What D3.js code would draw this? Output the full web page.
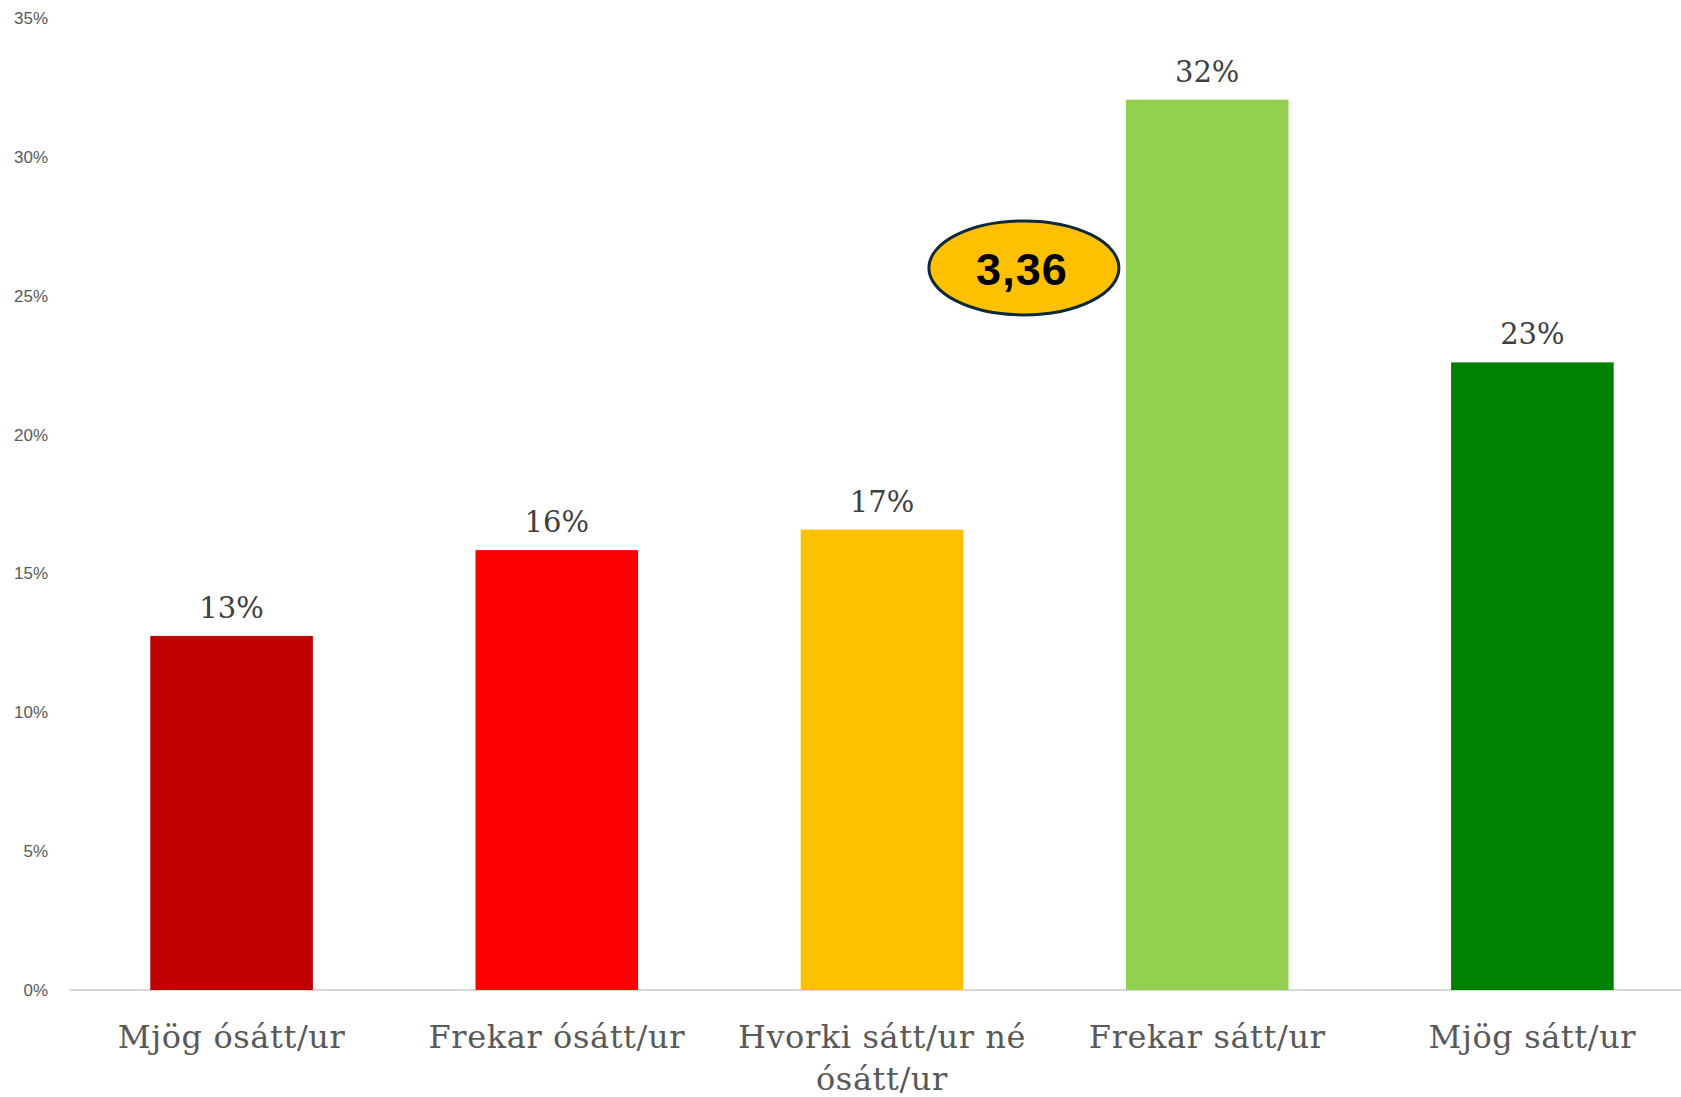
<!DOCTYPE html>
<html>
<head>
<meta charset="utf-8">
<script src="https://cdn.jsdelivr.net/npm/d3@7"></script>
<style>
body { margin: 0; background: #fff; }
</style>
</head>
<body>
<div id="chart"></div>
<script>
var WIDTH = 1681;
var HEIGHT = 1097;

var categories = [['Mjög ósátt/ur'], ['Frekar ósátt/ur'], ['Hvorki sátt/ur né', 'ósátt/ur'], ['Frekar sátt/ur'], ['Mjög sátt/ur']];
var values = [12.75, 15.84, 16.58, 32.06, 22.6];
var colors = ['#C00000', '#FF0000', '#FFC000', '#92D050', '#008000'];
var yTicks = [0, 5, 10, 15, 20, 25, 30, 35];
var averageLabel = '3,36';

var svg = d3.select('#chart').append('svg')
	.attr('width', WIDTH)
	.attr('height', HEIGHT);

var x = d3.scaleBand()
	.domain(d3.range(categories.length))
	.range([69, 1695])
	.paddingInner(0.5)
	.paddingOuter(0.25);

var y = d3.scaleLinear()
	.domain([0, 35])
	.range([990, 18]);

// y axis labels, no line
var yAxis = svg.append('g')
	.attr('transform', 'translate(48,0)')
	.call(d3.axisLeft(y).tickValues(yTicks).tickSize(0).tickPadding(0).tickFormat(function(d) { return d + '%'; }));
yAxis.select('.domain').remove();
yAxis.selectAll('text')
	.attr('fill', '#595959')
	.style('font-family', '"Liberation Sans", Arial, sans-serif')
	.style('font-size', '17px');

// baseline
svg.append('line')
	.attr('x1', 69)
	.attr('x2', WIDTH)
	.attr('y1', y(0))
	.attr('y2', y(0))
	.attr('stroke', '#d9d9d9')
	.attr('stroke-width', 2);

svg.selectAll('rect.bar')
	.data(values)
	.enter().append('rect')
	.attr('class', 'bar')
	.attr('x', function(d, i) { return x(i); })
	.attr('y', function(d) { return y(d); })
	.attr('width', x.bandwidth())
	.attr('height', function(d) { return y(0) - y(d); })
	.attr('fill', function(d, i) { return colors[i]; });

svg.selectAll('text.value')
	.data(values)
	.enter().append('text')
	.attr('class', 'value')
	.attr('x', function(d, i) { return x(i) + x.bandwidth()/2; })
	.attr('y', function(d) { return y(d) - 18; })
	.attr('text-anchor', 'middle')
	.attr('fill', '#404040')
	.style('font-family', '"DejaVu Serif", serif')
	.style('font-size', '29px')
	.text(function(d) { return Math.round(d) + '%'; });

var catLabels = svg.selectAll('text.cat')
	.data(categories)
	.enter().append('text')
	.attr('class', 'cat')
	.attr('text-anchor', 'middle')
	.attr('fill', '#595959')
	.style('font-family', '"DejaVu Serif", serif')
	.style('font-size', '32px')
	.style('letter-spacing', '0.6px');

catLabels.selectAll('tspan')
	.data(function(d, i) { return d.map(function(s) { return {s: s, i: i}; }); })
	.enter().append('tspan')
	.attr('x', function(d) { return x(d.i) + x.bandwidth()/2; })
	.attr('y', function(d, j) { return 1048 + j*42; })
	.text(function(d) { return d.s; });

// average rating bubble
var bubble = svg.append('g')
	.attr('transform', 'translate(' + (x(3) - 102) + ',' + y(26) + ')');

bubble.append('ellipse')
	.attr('rx', 95)
	.attr('ry', 47)
	.attr('fill', '#FFC000')
	.attr('stroke', '#0d2a3a')
	.attr('stroke-width', 3);

bubble.append('text')
	.attr('y', 17)
	.attr('x', -2)
	.attr('text-anchor', 'middle')
	.attr('fill', '#000')
	.style('font-family', '"Liberation Sans", Arial, sans-serif')
	.style('font-weight', 'bold')
	.style('font-size', '45px')
	.style('letter-spacing', '1px')
	.text(averageLabel);
</script>
</body>
</html>
